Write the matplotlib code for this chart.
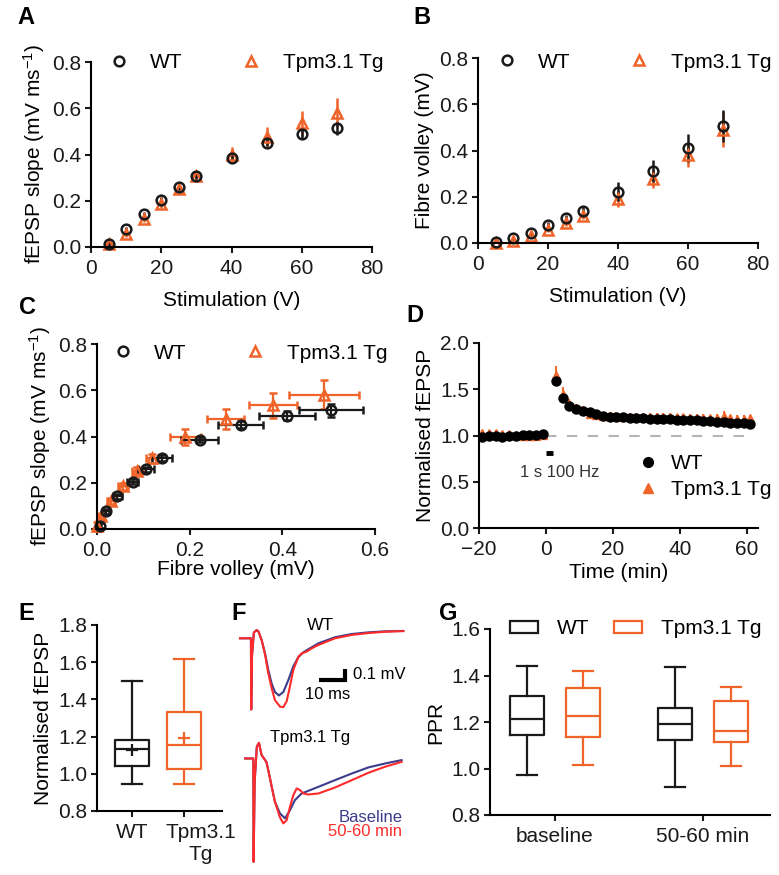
"""Multi-panel figure: input-output, LTP time course, traces and PPR (WT vs Tpm3.1 Tg)."""

import matplotlib

matplotlib.use("Agg")
import matplotlib.pyplot as plt  # noqa: E402
import matplotlib.transforms as mtrans  # noqa: E402
from matplotlib.lines import Line2D  # noqa: E402
from matplotlib.patches import Patch  # noqa: E402
from matplotlib.ticker import FormatStrFormatter  # noqa: E402

plt.rcParams["font.family"] = ["Liberation Sans", "DejaVu Sans"]
plt.rcParams["font.size"] = 15
plt.rcParams["axes.linewidth"] = 1.5
plt.rcParams["xtick.major.width"] = 1.5
plt.rcParams["ytick.major.width"] = 1.5
plt.rcParams["xtick.major.size"] = 4.5
plt.rcParams["ytick.major.size"] = 4.5
plt.rcParams["xtick.major.pad"] = 4.3
plt.rcParams["ytick.major.pad"] = 2.4
plt.rcParams["mathtext.default"] = "regular"

BLACK = "#1a1a1a"
ORANGE = "#F0642A"
BLUE = "#3C3C8C"
RED = "#FF2A2A"

# ---- input-output (A, B, C) ----
stim = [5, 10, 15, 20, 25, 30, 40, 50, 60, 70]
slope_wt = [0.015, 0.077, 0.141, 0.205, 0.258, 0.307, 0.387, 0.450, 0.490, 0.513]
slope_wt_err = [0.010, 0.010, 0.012, 0.012, 0.012, 0.012, 0.012, 0.015, 0.020, 0.027]
slope_tg = [0.012, 0.055, 0.122, 0.185, 0.252, 0.305, 0.398, 0.475, 0.535, 0.580]
slope_tg_err = [0.020, 0.012, 0.012, 0.015, 0.015, 0.020, 0.033, 0.043, 0.055, 0.063]
fv_wt = [0.006, 0.020, 0.044, 0.077, 0.106, 0.140, 0.222, 0.310, 0.410, 0.505]
fv_wt_err = [0.003, 0.006, 0.010, 0.012, 0.017, 0.022, 0.040, 0.048, 0.060, 0.070]
fv_tg = [0.001, 0.008, 0.030, 0.056, 0.087, 0.118, 0.191, 0.278, 0.380, 0.490]
fv_tg_err = [0.002, 0.004, 0.008, 0.010, 0.012, 0.013, 0.034, 0.040, 0.052, 0.075]

# ---- LTP time course (D) ----
time_min = [-19, -17, -15, -13, -11, -9, -7, -5, -3, -1,
            3, 5, 7, 9, 11, 13, 15, 17, 19, 21, 23, 25, 27, 29, 31, 33, 35, 37, 39, 41,
            43, 45, 47, 49, 51, 53, 55, 57, 59, 61]
ltp_wt = [0.985, 0.99, 0.99, 0.985, 0.99, 1.0, 1.005, 1.005, 1.005, 1.02,
          1.59, 1.41, 1.32, 1.29, 1.27, 1.255, 1.235, 1.215, 1.205, 1.20, 1.195, 1.19,
          1.19, 1.185, 1.18, 1.18, 1.175, 1.175, 1.17, 1.17, 1.165, 1.165, 1.16, 1.155,
          1.145, 1.145, 1.135, 1.135, 1.13, 1.125]
ltp_tg = [1.03, 1.03, 1.025, 1.02, 1.02, 1.005, 1.0, 1.0, 1.0, 1.005,
          1.65, 1.45, 1.34, 1.30, 1.275, 1.235, 1.225, 1.215, 1.21, 1.21, 1.205, 1.205,
          1.205, 1.205, 1.20, 1.20, 1.20, 1.20, 1.195, 1.195, 1.19, 1.19, 1.19, 1.185,
          1.19, 1.215, 1.185, 1.18, 1.18, 1.185]
ltp_tg_err = [0.03, 0.03, 0.03, 0.03, 0.03, 0.02, 0.02, 0.02, 0.02, 0.02,
              0.10, 0.07, 0.05, 0.045, 0.04, 0.04, 0.04, 0.04, 0.04, 0.04, 0.04, 0.04,
              0.04, 0.04, 0.04, 0.04, 0.04, 0.04, 0.04, 0.04, 0.04, 0.04, 0.04, 0.04,
              0.04, 0.05, 0.04, 0.04, 0.04, 0.04]

# ---- E: LTP magnitude 50-60 min ----
e_groups = ["WT", "Tpm3.1\nTg"]
e_whislo = [0.947, 0.944]
e_q1 = [1.042, 1.024]
e_med = [1.132, 1.156]
e_q3 = [1.184, 1.330]
e_whishi = [1.498, 1.615]
e_mean = [1.127, 1.193]

# ---- F: example traces (ms, mV) ----
wt_t_base = [0, 4.1, 4.2, 4.5, 5.2, 6.25, 6.9, 8.1, 9.4, 10.6, 11.9, 13.1, 14.6, 16.25,
             18.1, 20.0, 21.9, 23.75, 25.6, 29.4, 35.6, 41.9, 48.1, 54.4, 61.25]
wt_v_base = [0, 0, -0.61, -0.15, 0.05, 0.07, 0.06, -0.014, -0.13, -0.27, -0.39, -0.46,
             -0.49, -0.46, -0.36, -0.24, -0.16, -0.12, -0.094, -0.043, 0.009, 0.037,
             0.051, 0.06, 0.063]
wt_t_ltp = [0, 4.1, 4.2, 4.5, 5.2, 6.25, 6.9, 8.1, 9.4, 10.6, 11.9, 13.1, 15.0, 16.25,
            17.5, 18.75, 20.0, 21.9, 23.1, 25.0, 26.9, 29.4, 35.6, 41.9, 48.1, 54.4, 61.25]
wt_v_ltp = [0, 0, -0.61, -0.15, 0.05, 0.07, 0.06, -0.014, -0.14, -0.30, -0.43, -0.53,
            -0.586, -0.59, -0.54, -0.41, -0.27, -0.16, -0.13, -0.114, -0.086, -0.057,
            0.0, 0.029, 0.045, 0.056, 0.062]
tg_t_base = [1.9, 5.0, 5.1, 5.5, 6.3, 7.1, 8.1, 9.0, 9.9, 10.6, 11.9, 13.1, 15.0, 16.9,
             18.75, 20.6, 23.1, 29.4, 35.6, 41.9, 48.1, 54.4, 60.6]
tg_v_base = [0, 0, -0.886, -0.2, 0.1, 0.134, 0.029, 0.0, -0.03, -0.1, -0.243, -0.371,
             -0.471, -0.514, -0.443, -0.357, -0.3, -0.243, -0.186, -0.129, -0.077,
             -0.043, -0.014]
tg_t_ltp = [1.9, 5.0, 5.1, 5.5, 6.3, 7.1, 8.1, 9.0, 9.9, 10.6, 11.9, 13.1, 15.0, 16.25,
            17.5, 18.75, 20.0, 21.25, 22.5, 23.75, 25.6, 29.4, 35.6, 41.9, 48.1, 54.4, 60.6]
tg_v_ltp = [0, 0, -0.886, -0.2, 0.1, 0.134, 0.029, 0.0, -0.03, -0.1, -0.243, -0.371,
            -0.506, -0.557, -0.529, -0.414, -0.314, -0.257, -0.271, -0.3, -0.309, -0.3,
            -0.249, -0.186, -0.123, -0.071, -0.029]
TG_OFFSET = -1.03  # vertical stacking of the Tg trace below WT

# ---- G: paired-pulse ratio ----
g_groups = ["baseline", "50-60 min"]
g_wt_whislo = [0.972, 0.920]
g_wt_q1 = [1.143, 1.124]
g_wt_med = [1.214, 1.192]
g_wt_q3 = [1.313, 1.260]
g_wt_whishi = [1.440, 1.435]
g_tg_whislo = [1.017, 1.012]
g_tg_q1 = [1.136, 1.113]
g_tg_med = [1.226, 1.162]
g_tg_q3 = [1.346, 1.291]
g_tg_whishi = [1.418, 1.351]

W, H = 779, 875


def add_ax(fig, x0, y0, x1, y1):
    """axes from pixel box (top-left origin)"""
    return fig.add_axes([x0 / W, 1 - y1 / H, (x1 - x0) / W, (y1 - y0) / H])


def style(ax):
    ax.spines["top"].set_visible(False)
    ax.spines["right"].set_visible(False)
    ax.tick_params(colors=BLACK, labelcolor=BLACK)


def io_legend(ax, x, y):
    h = [Line2D([], [], marker="o", ls="none", mfc="none", mec=BLACK, mew=1.8, ms=7),
         Line2D([], [], marker="^", ls="none", mfc="none", mec=ORANGE, mew=1.8, ms=7)]
    ax.legend(h, ["WT", "Tpm3.1 Tg"], loc="center left", bbox_to_anchor=(x, y),
              ncol=2, frameon=False, handlelength=1.0, handletextpad=1.0,
              columnspacing=2.8, borderpad=0, borderaxespad=0)


fig = plt.figure(figsize=(W / 100, H / 100), dpi=100)

# ---------------- A ----------------
ax = add_ax(fig, 91, 62, 372, 247)
style(ax)
ax.errorbar(stim, slope_tg, yerr=slope_tg_err, fmt="^", color=ORANGE, mfc="none",
            mew=1.8, ms=7, elinewidth=1.8, capsize=0, clip_on=False)
ax.errorbar(stim, slope_wt, yerr=slope_wt_err, fmt="o", color=BLACK, mfc="none",
            mew=1.8, ms=7, elinewidth=1.8, capsize=0, clip_on=False)
ax.set_xlim(0, 80)
ax.set_ylim(0, 0.8)
ax.set_xticks([0, 20, 40, 60, 80])
ax.set_yticks([0, 0.2, 0.4, 0.6, 0.8])
ax.yaxis.set_major_formatter(FormatStrFormatter("%.1f"))
ax.set_xlabel("Stimulation (V)", labelpad=9)
ax.set_ylabel("fEPSP slope (mV ms$^{-1}$)", labelpad=4)
io_legend(ax, 0.062, 0.995)

# ---------------- B ----------------
ax = add_ax(fig, 478, 58, 758, 243)
style(ax)
ax.errorbar(stim, fv_tg, yerr=fv_tg_err, fmt="^", color=ORANGE, mfc="none",
            mew=1.8, ms=7, elinewidth=1.8, capsize=0, clip_on=False)
ax.errorbar(stim, fv_wt, yerr=fv_wt_err, fmt="o", color=BLACK, mfc="none",
            mew=1.8, ms=7, elinewidth=1.8, capsize=0, clip_on=False)
ax.set_xlim(0, 80)
ax.set_ylim(0, 0.8)
ax.set_xticks([0, 20, 40, 60, 80])
ax.set_yticks([0, 0.2, 0.4, 0.6, 0.8])
ax.yaxis.set_major_formatter(FormatStrFormatter("%.1f"))
ax.set_xlabel("Stimulation (V)", labelpad=9)
ax.set_ylabel("Fibre volley (mV)", labelpad=4)
io_legend(ax, 0.066, 0.978)

# ---------------- C ----------------
ax = add_ax(fig, 97, 344, 375, 529)
style(ax)
ax.errorbar(fv_tg, slope_tg, xerr=fv_tg_err, yerr=slope_tg_err, fmt="^", color=ORANGE,
            mfc="none", mew=1.8, ms=7, elinewidth=1.6, capsize=3, capthick=1.6,
            clip_on=False)
ax.errorbar(fv_wt, slope_wt, xerr=fv_wt_err, yerr=slope_wt_err, fmt="o", color=BLACK,
            mfc="none", mew=1.8, ms=7, elinewidth=1.6, capsize=3, capthick=1.6,
            clip_on=False)
ax.set_xlim(0, 0.6)
ax.set_ylim(0, 0.8)
ax.set_xticks([0, 0.2, 0.4, 0.6])
ax.set_yticks([0, 0.2, 0.4, 0.6, 0.8])
ax.xaxis.set_major_formatter(FormatStrFormatter("%.1f"))
ax.yaxis.set_major_formatter(FormatStrFormatter("%.1f"))
ax.set_xlabel("Fibre volley (mV)", labelpad=0)
ax.set_ylabel("fEPSP slope (mV ms$^{-1}$)", labelpad=4)
io_legend(ax, 0.056, 0.951)

# ---------------- D ----------------
ax = add_ax(fig, 479, 343, 758, 528)
style(ax)
ax.plot([0, 62], [1, 1], ls=(0, (5, 5)), color="#b5b5b5", lw=1.5, zorder=1)
ax.errorbar(time_min, ltp_tg, yerr=[[0] * len(ltp_tg_err), ltp_tg_err], fmt="^",
            color=ORANGE, ms=6, elinewidth=1.5, capsize=0, zorder=2, alpha=0.95)
ax.plot(time_min, ltp_wt, "o", color="black", ms=6.5, zorder=3)
ax.plot([0, 2], [0.81, 0.81], color="black", lw=3.5, solid_capstyle="butt")
ax.text(4, 0.6, "1 s 100 Hz", fontsize=12, ha="center", va="center", color="#333333")
ax.set_xlim(-20, 63.3)
ax.set_ylim(0, 2.0)
ax.set_xticks([-20, 0, 20, 40, 60])
ax.set_yticks([0, 0.5, 1.0, 1.5, 2.0])
ax.yaxis.set_major_formatter(FormatStrFormatter("%.1f"))
ax.set_xlabel("Time (min)", labelpad=2.5)
ax.set_ylabel("Normalised fEPSP", labelpad=4)
hd = [Line2D([], [], marker="o", ls="none", color="black", ms=7),
      Line2D([], [], marker="^", ls="none", color=ORANGE, ms=7)]
ax.legend(hd, ["WT", "Tpm3.1 Tg"], loc="upper left", bbox_to_anchor=(0.57, 0.40),
          frameon=False, handlelength=1.0, handletextpad=0.6, borderpad=0,
          borderaxespad=0, labelspacing=0.35)

# ---------------- E ----------------
ax = add_ax(fig, 97, 625, 222, 811)
style(ax)
for i, col in enumerate([BLACK, ORANGE]):
    st = dict(whislo=e_whislo[i], q1=e_q1[i], med=e_med[i], q3=e_q3[i],
              whishi=e_whishi[i], mean=e_mean[i], fliers=[])
    lp = dict(color=col, lw=1.6)
    ax.bxp([st], positions=[i + 1], widths=0.66, capwidths=0.38, showmeans=True,
           boxprops=lp, whiskerprops=lp, capprops=lp, medianprops=lp,
           meanprops=dict(marker="+", markeredgecolor=col, markersize=8, mew=1.6),
           manage_ticks=False)
ax.set_xlim(0.327, 2.73)
ax.set_ylim(0.8, 1.8)
ax.set_xticks([1, 2])
ax.set_xticklabels(e_groups)
ax.set_yticks([0.8, 1.0, 1.2, 1.4, 1.6, 1.8])
ax.yaxis.set_major_formatter(FormatStrFormatter("%.1f"))
ax.set_ylabel("Normalised fEPSP", labelpad=4)
xl = ax.get_xticklabels()
for lab in xl:
    lab.set_linespacing(1.2)
# the two-line label sits a little right of its tick in the original
xl[1].set_transform(xl[1].get_transform()
                    + mtrans.ScaledTranslation(0.17, 0, fig.dpi_scale_trans))

# ---------------- F ----------------
ax = add_ax(fig, 235, 620, 410, 870)
ax.axis("off")
ax.plot(wt_t_base, wt_v_base, color=BLUE, lw=1.5)
ax.plot(wt_t_ltp, wt_v_ltp, color=RED, lw=1.5)
ax.plot(tg_t_base, [v + TG_OFFSET for v in tg_v_base], color=BLUE, lw=1.5)
ax.plot(tg_t_ltp, [v + TG_OFFSET for v in tg_v_ltp], color=RED, lw=1.5)
SCALE_MS, SCALE_MV = 10, 0.1
sx, sy = 29.5, -0.36
ax.plot([sx, sx + SCALE_MS, sx + SCALE_MS], [sy, sy, sy + SCALE_MV], color="black",
        lw=3, solid_joinstyle="miter", solid_capstyle="butt")
ax.text(sx + SCALE_MS + 3.0, sy + SCALE_MV / 2, "0.1 mV", fontsize=12, va="center")
ax.text(sx + 3.5, sy - 0.12, "10 ms", fontsize=12, ha="center", va="center")
ax.text(30, 0.114, "WT", fontsize=12.5, ha="center", va="center")
ax.text(26.1, -0.846, "Tpm3.1 Tg", fontsize=12, ha="center", va="center")
ax.text(60.8, -1.54, "Baseline", fontsize=12, ha="right", va="center", color=BLUE)
ax.text(60.8, -1.66, "50-60 min", fontsize=12, ha="right", va="center", color=RED)
ax.set_xlim(-1.875, 63.75)
ax.set_ylim(-1.986, 0.157)

# ---------------- G ----------------
ax = add_ax(fig, 490, 629, 770, 815)
style(ax)
for off, col, lo, q1, md, q3, hi in [
        (-0.19, BLACK, g_wt_whislo, g_wt_q1, g_wt_med, g_wt_q3, g_wt_whishi),
        (0.19, ORANGE, g_tg_whislo, g_tg_q1, g_tg_med, g_tg_q3, g_tg_whishi)]:
    stats = [dict(whislo=lo[k], q1=q1[k], med=md[k], q3=q3[k], whishi=hi[k], fliers=[])
             for k in range(len(g_groups))]
    lp = dict(color=col, lw=1.6)
    ax.bxp(stats, positions=[k + 1 + off for k in range(len(g_groups))], widths=0.23,
           capwidths=0.135, boxprops=lp, whiskerprops=lp, capprops=lp, medianprops=lp,
           manage_ticks=False)
ax.set_xlim(0.561, 2.453)
ax.set_ylim(0.8, 1.6)
ax.set_xticks([1, 2])
ax.set_xticklabels(g_groups)
ax.set_yticks([0.8, 1.0, 1.2, 1.4, 1.6])
ax.yaxis.set_major_formatter(FormatStrFormatter("%.1f"))
ax.set_ylabel("PPR", labelpad=4)
hg = [Patch(facecolor="white", edgecolor=BLACK, lw=1.6),
      Patch(facecolor="white", edgecolor=ORANGE, lw=1.6)]
ax.legend(hg, ["WT", "Tpm3.1 Tg"], loc="center left", bbox_to_anchor=(0.07, 1.0),
          ncol=2, frameon=False, handlelength=1.35, handleheight=0.5,
          handletextpad=0.9, columnspacing=1.2, borderpad=0, borderaxespad=0)

# panel letters
for lab, x, y in [("A", 26, 17), ("B", 422, 18), ("C", 27, 307), ("D", 415, 315),
                  ("E", 26, 614), ("F", 239, 613), ("G", 448, 613)]:
    fig.text(x / W, 1 - y / H, lab, fontsize=17, fontweight="bold", ha="center",
             va="center")

fig.savefig("out.png", dpi=100)
